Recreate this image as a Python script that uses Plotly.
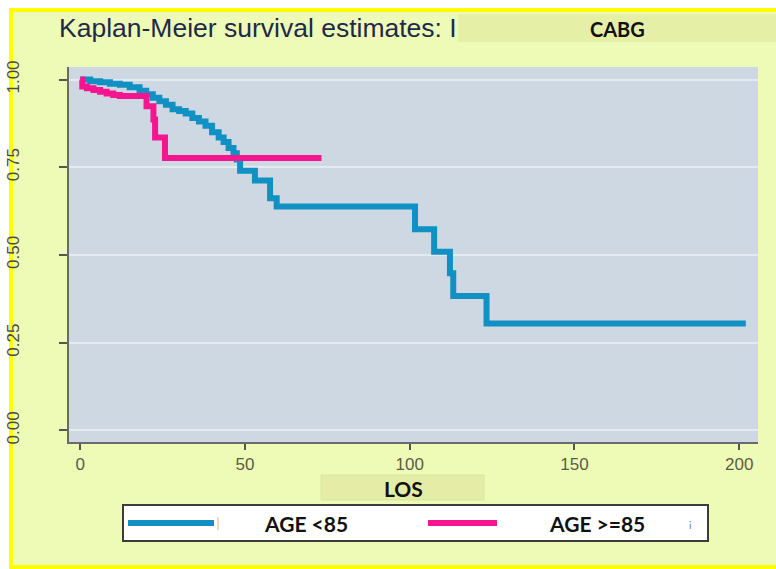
import plotly.graph_objects as go

# ---------------- data ----------------
group_names = ["AGE <85", "AGE >=85"]

t_young = [0, 3, 6, 9, 12, 15, 18, 20, 22, 24, 26, 28, 30, 32, 34, 36, 38, 40, 42,
           43.5, 45, 46.5, 47.5, 48.5, 53, 57.6, 59.6, 101.6, 107.4, 112.2, 113.2,
           123.3, 202]
s_young = [1.0, 0.995, 0.992, 0.988, 0.985, 0.978, 0.968, 0.958, 0.948, 0.938, 0.928,
           0.915, 0.910, 0.903, 0.890, 0.880, 0.868, 0.850, 0.835, 0.822, 0.805, 0.790,
           0.772, 0.740, 0.712, 0.662, 0.638, 0.573, 0.509, 0.448, 0.383, 0.305, 0.305]

t_old = [0, 0.6, 2, 4, 6, 8, 10, 12, 20.1, 22.2, 22.7, 25.7, 73.2]
s_old = [1.0, 0.980, 0.975, 0.970, 0.965, 0.960, 0.956, 0.953, 0.924, 0.886, 0.835,
         0.776, 0.776]

x_ticks = [0, 50, 100, 150, 200]
y_ticks = [0, 0.25, 0.5, 0.75, 1.0]
y_tick_labels = ["0.00", "0.25", "0.50", "0.75", "1.00"]

title_text = "Kaplan-Meier survival estimates: I"
title_box_text = "CABG"
x_title = "LOS"

colors = ["#1190C3", "#F5158E"]

# ---------------- layout helpers (pixel -> paper) ----------------
W, H = 776, 569
PL, PR, PT, PB = 69, 758, 67, 442


def px(x):
    return (x - PL) / (PR - PL)


def py(y):
    return (PB - y) / (PB - PT)


fig = go.Figure()
for t, s, name, c in zip([t_young, t_old], [s_young, s_old], group_names, colors):
    fig.add_trace(go.Scatter(x=t, y=s, mode="lines", name=name,
                             line=dict(color=c, width=6, shape="hv"),
                             showlegend=False))

shapes = []
# outer yellow frame
shapes.append(dict(type="rect", xref="paper", yref="paper", layer="below",
                   x0=px(11), x1=px(800), y0=py(567), y1=py(10),
                   fillcolor="#EDFBB7", line=dict(color="#FFFF00", width=4)))
# plot area background
shapes.append(dict(type="rect", xref="paper", yref="paper", layer="below",
                   x0=0, x1=1, y0=0, y1=1,
                   fillcolor="#CDD8E2", line=dict(width=0)))
# title highlight box
shapes.append(dict(type="rect", xref="paper", yref="paper", layer="below",
                   x0=px(458), x1=px(800), y0=py(42), y1=py(14),
                   fillcolor="#E6EFA6", line=dict(width=0)))
# axis-title box
shapes.append(dict(type="rect", xref="paper", yref="paper", layer="below",
                   x0=px(321), x1=px(484), y0=py(500), y1=py(475),
                   fillcolor="#E4ECA6", line=dict(color="#D6E89E", width=1)))
# legend box
shapes.append(dict(type="rect", xref="paper", yref="paper", layer="above",
                   x0=px(123), x1=px(708), y0=py(541), y1=py(505),
                   fillcolor="white", line=dict(color="#3C3C3C", width=2)))
# legend samples
leg_samples = [(128, 214), (428, 497)]
for (a, b), c in zip(leg_samples, colors):
    shapes.append(dict(type="line", xref="paper", yref="paper", layer="above",
                       x0=px(a), x1=px(b), y0=py(523), y1=py(523),
                       line=dict(color=c, width=6)))
shapes.append(dict(type="line", xref="paper", yref="paper", layer="above",
                   x0=px(218), x1=px(218), y0=py(517), y1=py(530),
                   line=dict(color="#E2B384", width=1)))

annotations = [
    dict(text=title_text, xref="paper", yref="paper", x=px(57), y=py(28),
         xanchor="left", yanchor="middle", showarrow=False,
         font=dict(family="Liberation Sans", size=26.5, color="#1E2A48")),
    dict(text="<b>%s</b>" % title_box_text, xref="paper", yref="paper",
         x=px(617), y=py(29), xanchor="center", yanchor="middle", showarrow=False,
         font=dict(family="Lato", size=20, color="#111111")),
    dict(text="<b>%s</b>" % x_title, xref="paper", yref="paper",
         x=px(403), y=py(488), xanchor="center", yanchor="middle", showarrow=False,
         font=dict(family="Lato", size=21, color="#111111")),
]
for name, cx in zip(group_names, [306, 597]):
    annotations.append(dict(text="<b>%s</b>" % name, xref="paper", yref="paper",
                            x=px(cx), y=py(523), xanchor="center", yanchor="middle",
                            showarrow=False,
                            font=dict(family="Lato", size=21, color="#111111")))
annotations.append(dict(text="¡", xref="paper", yref="paper", x=px(690), y=py(523),
                        xanchor="center", yanchor="middle", showarrow=False,
                        font=dict(family="DejaVu Sans", size=11, color="#6E8FD4")))

fig.update_layout(
    width=W, height=H,
    margin=dict(l=PL, r=W - PR, t=PT, b=H - PB, pad=0),
    paper_bgcolor="white",
    plot_bgcolor="rgba(0,0,0,0)",
    shapes=shapes,
    annotations=annotations,
    showlegend=False,
    xaxis=dict(range=[-3.43, 205.7], tickvals=x_ticks, ticks="outside", ticklen=6,
               tickwidth=1.5, tickcolor="#555555", showline=True, linecolor="#6A6A6A",
               linewidth=2, showgrid=False, zeroline=False, automargin=False,
               tickfont=dict(family="Liberation Sans", size=17, color="#5B5B45")),
    yaxis=dict(range=[-0.0328, 1.0356], tickvals=y_ticks, ticktext=y_tick_labels,
               tickangle=-90, ticks="outside", ticklen=8, tickwidth=1.5,
               tickcolor="#555555", showline=True, linecolor="#6A6A6A", linewidth=2,
               showgrid=True, gridcolor="#E4EBF0", gridwidth=2, zeroline=False,
               ticklabelstandoff=33, automargin=False,
               tickfont=dict(family="Liberation Sans", size=17, color="#4A4A40")),
)

fig.write_html("out.html")
